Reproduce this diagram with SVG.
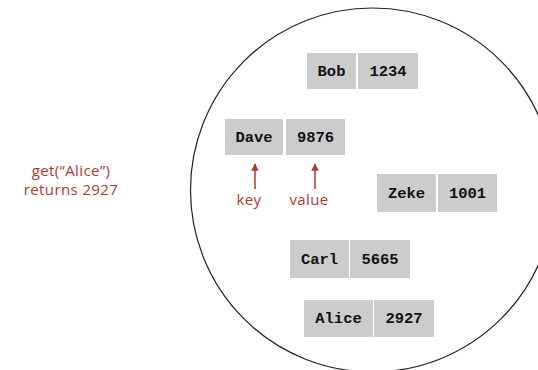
<svg xmlns="http://www.w3.org/2000/svg" width="538" height="370" viewBox="0 0 538 370">
<defs>
<style>
.b{fill:#cccccc}
.t{font-family:"Liberation Mono",monospace;font-weight:bold;font-size:15.5px;fill:#111;text-anchor:middle}
.r{font-family:"Open Sans","Liberation Sans",sans-serif;font-size:15px;letter-spacing:0.4px;fill:#b5382f;text-anchor:middle}
.a{stroke:#b5382f;stroke-width:1.5;fill:none}
</style>
<marker id="ah" viewBox="0 0 10 10" refX="9" refY="5" markerWidth="5" markerHeight="5" orient="auto"><path d="M0,0 L10,5 L0,10 z" fill="#b5382f"/></marker>
</defs>
<rect width="538" height="370" fill="#fff"/>
<circle cx="372.5" cy="190" r="182" fill="none" stroke="#222" stroke-width="1.2"/>
<g id="bob"><rect class="b" x="307" y="53" width="49" height="36"/><rect class="b" x="358" y="53" width="60" height="36"/><text class="t" x="331.5" y="76">Bob</text><text class="t" x="388" y="76">1234</text></g>
<g id="dave"><rect class="b" x="225" y="119" width="58" height="36"/><rect class="b" x="286" y="119" width="59" height="36"/><text class="t" x="254" y="142">Dave</text><text class="t" x="315.5" y="142">9876</text></g>
<g id="zeke"><rect class="b" x="377" y="174" width="59" height="38"/><rect class="b" x="438" y="174" width="59" height="38"/><text class="t" x="406.5" y="198">Zeke</text><text class="t" x="467.5" y="198">1001</text></g>
<g id="carl"><rect class="b" x="290" y="240" width="59" height="38"/><rect class="b" x="350" y="240" width="60" height="38"/><text class="t" x="319.5" y="264">Carl</text><text class="t" x="380" y="264">5665</text></g>
<g id="alice"><rect class="b" x="304" y="300" width="69" height="37"/><rect class="b" x="374" y="300" width="60" height="37"/><text class="t" x="338.5" y="323">Alice</text><text class="t" x="404" y="323">2927</text></g>
<g id="connectors">
<line class="a" x1="255" y1="189" x2="255" y2="164" marker-end="url(#ah)"/>
<line class="a" x1="315" y1="189" x2="315" y2="164" marker-end="url(#ah)"/>
</g>
<g id="labels">
<text class="r" x="249" y="205">key</text>
<text class="r" x="309" y="205">value</text>
<text class="r" x="71" y="176">get(“Alice”)</text>
<text class="r" x="71" y="195">returns 2927</text>
</g>
</svg>
